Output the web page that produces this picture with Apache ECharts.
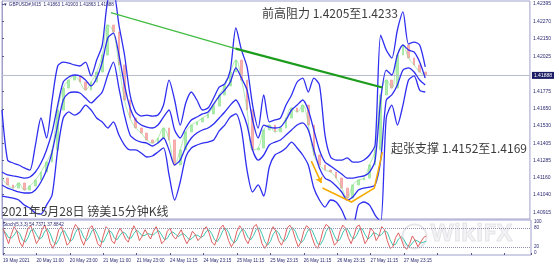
<!DOCTYPE html>
<html><head><meta charset="utf-8">
<script src="https://cdn.jsdelivr.net/npm/echarts@6/dist/echarts.min.js"></script>
<style>html,body{margin:0;padding:0;background:#fff}#c{width:554px;height:265px}</style>
</head><body><div id="c"></div>
<script>
// ---- data ----
const xLabels = ['19 May 2021','20 May 11:00','20 May 23:00','21 May 11:00','21 May 23:00','24 May 11:15','24 May 23:15','25 May 11:15','25 May 23:15','26 May 11:15','26 May 23:15','27 May 11:15','27 May 23:15'];
const yTickValues = [1.42395,1.42270,1.42150,1.42025,1.41775,1.41650,1.41530,1.41405,1.41285,1.41160,1.41040,1.40915];
const stochTicks = [0,20,80,100];
const stochLevels = [20,80];
const stepHours = 2;          // one sample every 2 hours
const lastPrice = 1.41888;

const closes = [1.41158,1.41109,1.41087,1.41123,1.41073,1.41102,1.41144,1.41201,1.41272,1.41358,
1.41642,1.41798,1.41855,1.41884,1.41841,1.41784,1.41841,1.41912,1.42033,1.42246,
1.42197,1.41962,1.41713,1.41585,1.41514,1.41478,1.41429,1.41407,1.41443,1.41514,
1.41429,1.41251,1.41358,1.41486,1.41535,1.41557,1.41585,1.41614,1.41670,1.41749,
1.41813,1.41912,1.41997,1.41855,1.41642,1.41358,1.41372,1.41500,1.41535,1.41486,
1.41514,1.41585,1.41656,1.41628,1.41677,1.41535,1.41322,1.41251,1.41215,1.41201,
1.41158,1.41087,1.41016,1.41109,1.41144,1.41158,1.41251,1.41358,1.41749,1.41855,
1.41798,1.42033,1.42104,1.42012,1.41962,1.41912,1.41888];

const bandOuterUpper = [1.41642,1.41286,1.41265,1.41251,1.41230,1.41215,1.41393,1.41585,1.41443,1.41713,
1.41955,1.41983,1.41976,1.41962,1.41955,1.41983,1.41884,1.41997,1.42104,1.42424,
1.42481,1.42246,1.42033,1.41749,1.41628,1.41599,1.41606,1.41599,1.41606,1.41677,
1.41855,1.41713,1.41535,1.41692,1.41770,1.41713,1.41642,1.41656,1.41727,1.41805,
1.41827,1.41926,1.42225,1.42069,1.41948,1.41677,1.41514,1.41749,1.41557,1.41571,
1.41585,1.41677,1.41749,1.41841,1.41869,1.41770,1.41869,1.41820,1.41464,1.41308,
1.41286,1.41286,1.41301,1.41272,1.41272,1.41286,1.41322,1.41393,1.42175,1.42069,
1.42012,1.42211,1.42339,1.42111,1.42125,1.42104,1.41948];

const bandInnerUpper = [1.41201,1.41180,1.41173,1.41166,1.41158,1.41166,1.41201,1.41265,1.41358,1.41486,
1.41677,1.41841,1.41877,1.41891,1.41884,1.41855,1.41813,1.41869,1.41983,1.42154,
1.42189,1.42033,1.41820,1.41656,1.41571,1.41535,1.41521,1.41514,1.41535,1.41592,
1.41642,1.41500,1.41443,1.41514,1.41571,1.41592,1.41614,1.41628,1.41685,1.41741,
1.41784,1.41841,1.41941,1.41869,1.41784,1.41571,1.41443,1.41535,1.41521,1.41514,
1.41521,1.41571,1.41642,1.41677,1.41713,1.41642,1.41500,1.41358,1.41272,1.41244,
1.41215,1.41187,1.41158,1.41158,1.41166,1.41173,1.41201,1.41286,1.41713,1.41926,
1.41891,1.42033,1.42104,1.42069,1.42054,1.41983,1.41869];

const bandInnerLower = [1.41109,1.41087,1.41073,1.41059,1.41052,1.41052,1.41073,1.41130,1.41215,1.41343,
1.41535,1.41713,1.41763,1.41770,1.41763,1.41727,1.41692,1.41727,1.41770,1.41891,
1.41983,1.41798,1.41606,1.41464,1.41429,1.41414,1.41407,1.41386,1.41407,1.41443,
1.41358,1.41251,1.41286,1.41379,1.41443,1.41478,1.41500,1.41514,1.41542,1.41585,
1.41628,1.41677,1.41713,1.41642,1.41535,1.41358,1.41286,1.41322,1.41393,1.41414,
1.41429,1.41464,1.41500,1.41535,1.41550,1.41500,1.41358,1.41230,1.41158,1.41137,
1.41102,1.41059,1.41002,1.41023,1.41073,1.41087,1.41094,1.41109,1.41286,1.41713,
1.41749,1.41820,1.41926,1.41941,1.41912,1.41855,1.41820];

const bandOuterLower = [1.41030,1.41023,1.41016,1.41002,1.40966,1.40945,1.40910,1.40902,1.40966,1.41038,
1.41358,1.41585,1.41628,1.41606,1.41628,1.41677,1.41642,1.41585,1.41557,1.41514,
1.41557,1.41464,1.41393,1.41358,1.41358,1.41336,1.41308,1.41315,1.41343,1.41372,
1.41180,1.41002,1.41130,1.41308,1.41372,1.41393,1.41407,1.41414,1.41429,1.41493,
1.41535,1.41592,1.41614,1.41500,1.41215,1.41059,1.41109,1.41030,1.41237,1.41322,
1.41343,1.41372,1.41414,1.41372,1.41322,1.41251,1.41087,1.41002,1.40952,1.41002,
1.40988,1.40931,1.40846,1.40824,1.40966,1.40988,1.40966,1.40895,1.40846,1.41585,
1.41677,1.41535,1.41677,1.41855,1.41884,1.41784,1.41770];

// hourly stochastic (5,3,3)
const stochMain = [80,55,30,60,85,70,35,20,50,80,
88,60,30,45,75,90,65,30,15,40,
75,85,55,25,35,70,92,80,45,25,
50,80,88,60,30,20,55,85,75,40,
30,60,80,65,45,35,65,88,70,40,
55,75,60,45,70,85,60,30,40,70,
80,55,45,60,75,50,30,45,70,60,
40,50,75,85,65,35,25,50,80,90,
70,40,20,35,70,88,75,45,30,55,
85,92,65,30,15,30,65,85,70,40,
25,45,80,90,75,45,20,35,70,88,
80,50,25,15,40,75,92,85,55,25,
35,70,90,80,50,30,55,85,90,60,
30,45,80,70,40,55,85,75,40,15,
20,50,65,45,20,12,30,55,40,20,
35,50,55];
const stochSignal = [75,65,50,48,58,72,63,42,35,50,
73,76,60,45,50,70,77,62,37,28,
43,67,72,55,38,43,66,81,72,50,
40,52,73,76,59,37,35,53,72,67,
48,43,57,68,63,48,48,63,74,66,
55,57,63,60,58,67,72,58,43,47,
63,68,60,53,60,62,52,42,48,58,
57,50,55,70,75,62,42,37,52,73,
80,67,43,32,42,64,78,69,50,43,
57,77,81,62,37,25,37,60,73,65,
45,37,50,72,82,70,47,33,42,64,
79,73,52,30,27,43,69,84,77,55,
38,43,65,80,73,53,45,57,77,78,
60,45,52,65,63,55,60,72,67,43,
25,28,45,53,43,26,21,32,42,38,
32,35,38];

// drawn lines: [hour, price]
const trendResistance = [[39.1,1.42335],[83.9,1.42079],[136.6,1.41802]];
const supportArrow = [[111.1,1.41279],[114.7,1.41123]];
const supportPath = [[115.1,1.41087],[125.5,1.40988],[133.7,1.41087],[136.6,1.41343]];

// ---- chart ----
const chart = echarts.init(document.getElementById('c'), null, {renderer:'canvas'});
const hx = i => i * stepHours;
const candleData = closes.map((c,i) => {
  const o = i ? closes[i-1] : c;
  return [hx(i), o, c, Math.min(o,c), Math.max(o,c)];
});
const band = arr => arr.map((v,i) => [hx(i), v]);
const xMax = 189.6;
const border = '#a0a0cc';
const navy = '#2a2a72';
const blue = '#2e2ef0';

function blueLine(arr){
  return {type:'line', xAxisIndex:0, yAxisIndex:0, data: band(arr), showSymbol:false, symbol:'none',
    smooth:0.25, lineStyle:{color:blue, width:1.3}, z:5, animation:false};
}

chart.setOption({
  animation:false,
  backgroundColor:'#ffffff',
  grid:[
    {left:2, right:23, top:1, height:218, show:true, borderColor:border, borderWidth:1, backgroundColor:'#fff'},
    {left:2, right:23, top:220, height:35, show:true, borderColor:border, borderWidth:1, backgroundColor:'#fff'}
  ],
  xAxis:[
    {gridIndex:0, type:'value', min:0, max:xMax, show:false},
    {gridIndex:1, type:'value', min:0, max:xMax, interval:12,
     axisLine:{show:false}, splitLine:{show:false},
     axisTick:{show:true, length:2, lineStyle:{color:'#5a5a8a'}},
     axisLabel:{fontSize:4.6, color:navy, align:'left', margin:3, fontFamily:'Liberation Sans',
       formatter: v => { const k = v/12; return Number.isInteger(k) ? (xLabels[k] || '') : ''; }}}
  ],
  yAxis:[
    {gridIndex:0, type:'value', position:'right', min:1.40867, max:1.42417,
     axisLine:{show:true, lineStyle:{color:border}}, splitLine:{show:false},
     axisTick:{show:true, length:2, customValues:yTickValues, lineStyle:{color:'#5a5a8a'}},
     axisLabel:{customValues:yTickValues, formatter: v => v.toFixed(5), fontSize:5, color:navy, margin:3, fontFamily:'Liberation Sans'}},
    {gridIndex:1, type:'value', position:'right', min:-6.5, max:106.5,
     axisLine:{show:true, lineStyle:{color:border}}, splitLine:{show:false},
     axisTick:{show:true, length:2, customValues:stochTicks, lineStyle:{color:'#5a5a8a'}},
     axisLabel:{customValues:stochTicks, fontSize:4.6, color:navy, margin:3, fontFamily:'Liberation Sans'}}
  ],
  series:[
    {type:'candlestick', xAxisIndex:0, yAxisIndex:0, data:candleData, encode:{x:0, y:[1,2,3,4]},
     barWidth:2.2, z:2,
     itemStyle:{color:'#9fe89f', color0:'#f4a2a2', borderColor:'#9fe89f', borderColor0:'#f4a2a2', opacity:0.85}},
    {type:'line', xAxisIndex:0, yAxisIndex:0, data:band(closes), showSymbol:false, symbol:'none', smooth:0.4,
     lineStyle:{color:'#8fe08f', width:1, opacity:0.7}, z:3,
     markLine:{silent:true, symbol:'none', animation:false, precision:5,
       lineStyle:{color:'#b9bccb', width:1, type:'solid', opacity:1},
       label:{show:true, position:'end', distance:2, formatter: () => lastPrice.toFixed(5),
         color:'#fff', backgroundColor:'#1d1d66', fontSize:5, padding:[1,2], fontFamily:'Liberation Sans'},
       data:[{yAxis:lastPrice}]}},
    blueLine(bandOuterUpper),
    blueLine(bandInnerUpper),
    blueLine(bandInnerLower),
    blueLine(bandOuterLower),
    {type:'line', xAxisIndex:0, yAxisIndex:0, data:trendResistance.slice(0,2), showSymbol:false, symbol:'none',
     lineStyle:{color:'#44bb44', width:1.3}, z:6},
    {type:'line', xAxisIndex:0, yAxisIndex:0, data:trendResistance.slice(1), showSymbol:false, symbol:'none',
     lineStyle:{color:'#1c9c1c', width:2.3}, z:6},
    {type:'lines', coordinateSystem:'cartesian2d', xAxisIndex:0, yAxisIndex:0, polyline:false,
     symbol:['none','arrow'], symbolSize:6, z:6,
     lineStyle:{color:'#f7ab00', width:1.6, opacity:1},
     data:[{coords:supportArrow}]},
    {type:'line', xAxisIndex:0, yAxisIndex:0, data:supportPath, showSymbol:false, symbol:'none',
     lineStyle:{color:'#f7ab00', width:1.6}, z:6},
    {type:'line', xAxisIndex:1, yAxisIndex:1, data:stochSignal.map((v,i)=>[i,v]), showSymbol:false, symbol:'none',
     lineStyle:{color:'#3ec6b2', width:1}, z:3},
    {type:'line', xAxisIndex:1, yAxisIndex:1, data:stochMain.map((v,i)=>[i,v]), showSymbol:false, symbol:'none',
     lineStyle:{color:'#e06060', width:1}, z:4,
     markLine:{silent:true, symbol:'none', animation:false, label:{show:false},
       lineStyle:{color:'#9090b0', width:1, type:'dotted'},
       data: stochLevels.map(v => ({yAxis:v}))}}
  ],
  graphic:[
    {type:'text', left:3, top:2, z:20, style:{text:'▼ GBPUSD#,M15  1.41863 1.41903 1.41863 1.41888', font:'4.6px "Liberation Sans"', fill:navy}},
    {type:'text', left:3, top:222, z:20, style:{text:'Stoch(5,3,3) 54.7371 37.8842', font:'4.6px "Liberation Sans"', fill:navy}},
    {type:'text', left:262, top:7, z:20, style:{text:'前高阻力 1.4205至1.4233', font:'12px "Noto Sans CJK SC"', fill:'#3c3c3c'}},
    {type:'text', left:391, top:142, z:20, style:{text:'起张支撑 1.4152至1.4169', font:'12px "Noto Sans CJK SC"', fill:'#3c3c3c'}},
    {type:'text', left:2, top:205, z:20, style:{text:'2021年5月28日 镑美15分钟K线', font:'12px "Noto Sans CJK SC"', fill:'#3c3c3c'}},
    {type:'text', left:430, top:222, z:1, style:{text:'WikiFX', font:'bold 24px "Open Sans"', fill:'rgba(215,215,222,0.3)', stroke:'rgba(195,195,205,0.4)', lineWidth:1}},
    {type:'circle', left:400, top:222, z:1, shape:{r:12}, style:{fill:'none', stroke:'rgba(195,195,205,0.4)', lineWidth:2}}
  ]
});
</script></body></html>
